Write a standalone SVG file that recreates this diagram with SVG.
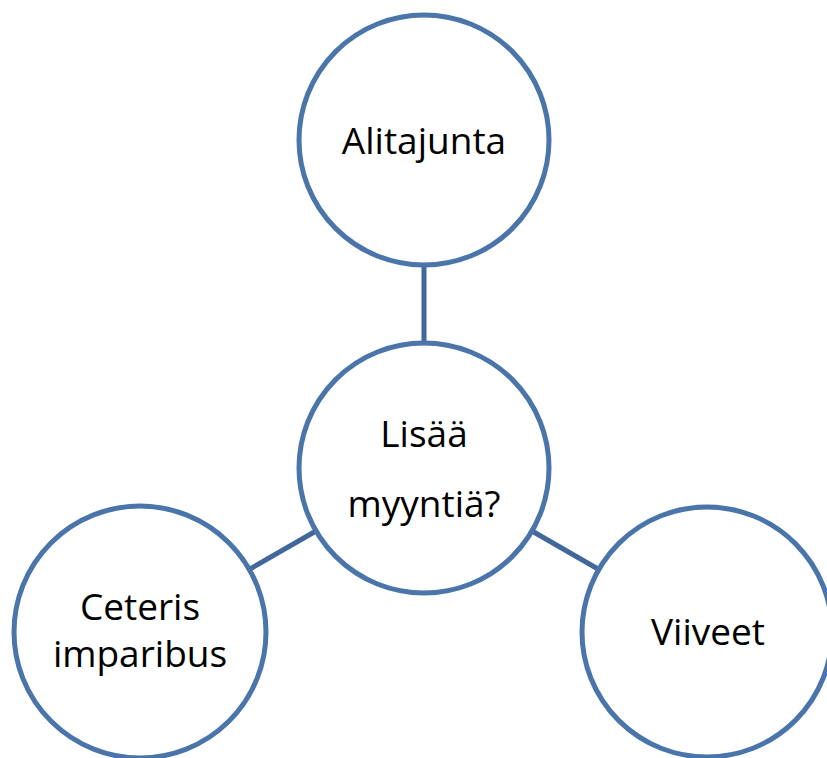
<svg xmlns="http://www.w3.org/2000/svg" width="827" height="758" viewBox="0 0 827 758">
  <style>
    .node { fill: #ffffff; stroke: #4a75ab; stroke-width: 5; }
    .link { stroke: #42689b; stroke-width: 5; fill: none; }
    .label { font-family: "Open Sans", "Liberation Sans", sans-serif; font-size: 37px; fill: #000000; text-anchor: middle; }
  </style>
  <rect width="827" height="758" fill="#ffffff"/>
  <g id="connectors">
    <line class="link" x1="424" y1="266" x2="424" y2="343"/>
    <line class="link" x1="316" y1="531" x2="250" y2="569"/>
    <line class="link" x1="532" y1="531" x2="598" y2="569"/>
  </g>
  <g id="alitajunta">
    <circle class="node" cx="424" cy="140" r="125"/>
    <text class="label" x="424" y="154">Alitajunta</text>
  </g>
  <g id="lisaa-myyntia">
    <circle class="node" cx="424" cy="468" r="125"/>
    <text class="label" x="424" y="447">Lisää</text>
    <text class="label" x="424" y="517">myyntiä?</text>
  </g>
  <g id="ceteris-imparibus">
    <circle class="node" cx="140" cy="632" r="126"/>
    <text class="label" x="140" y="620">Ceteris</text>
    <text class="label" x="140" y="667">imparibus</text>
  </g>
  <g id="viiveet">
    <circle class="node" cx="707" cy="632" r="125"/>
    <text class="label" x="708" y="645">Viiveet</text>
  </g>
</svg>
